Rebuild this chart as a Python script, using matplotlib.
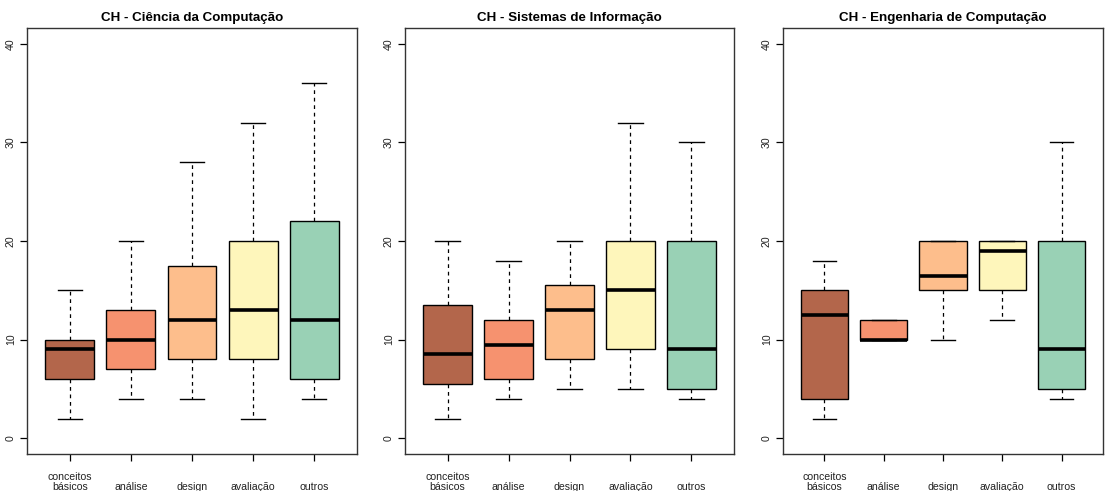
import matplotlib
matplotlib.use("Agg")
import matplotlib.pyplot as plt

plt.rcParams['font.family'] = ['Liberation Sans', 'DejaVu Sans']

# categories and colours
categorias = ["conceitos\nbásicos", "\nanálise", "\ndesign", "\navaliação", "\noutros"]
cores = ["#B3664B", "#F6926F", "#FDBE8C", "#FEF6BB", "#99D1B5"]

titulos = ["CH - Ciência da Computação",
           "CH - Sistemas de Informação",
           "CH - Engenharia de Computação"]

# five-number summaries per course: (min, q1, median, q3, max)
cc_stats = [(2, 6, 9, 10, 15),
            (4, 7, 10, 13, 20),
            (4, 8, 12, 17.5, 28),
            (2, 8, 13, 20, 32),
            (4, 6, 12, 22, 36)]
si_stats = [(2, 5.5, 8.5, 13.5, 20),
            (4, 6, 9.5, 12, 18),
            (5, 8, 13, 15.5, 20),
            (5, 9, 15, 20, 32),
            (4, 5, 9, 20, 30)]
ec_stats = [(2, 4, 12.5, 15, 18),
            (10, 10, 10, 12, 12),
            (10, 15, 16.5, 20, 20),
            (12, 15, 19, 20, 20),
            (4, 5, 9, 20, 30)]

yticks = [0, 10, 20, 30, 40]

W, H = 1105, 491
fig = plt.figure(figsize=(W / 100, H / 100), dpi=100)

# axes positions in pixels: (left, right)
posicoes = [(27, 357), (405, 734), (783, 1103)]
top_px, bot_px = 28, 454

for (l, r), titulo, stats in zip(posicoes, titulos, [cc_stats, si_stats, ec_stats]):
    ax = fig.add_axes([l / W, (H - bot_px) / H, (r - l) / W, (bot_px - top_px) / H])
    dados = []
    for s in stats:
        dados.append({'whislo': s[0], 'q1': s[1], 'med': s[2], 'q3': s[3],
                      'whishi': s[4], 'fliers': []})
    bp = ax.bxp(dados, positions=range(1, 6), widths=0.8, patch_artist=True,
                showfliers=False,
                boxprops=dict(edgecolor='black', linewidth=1.0),
                medianprops=dict(color='black', linewidth=2.6, solid_capstyle='butt'),
                whiskerprops=dict(color='black', linewidth=0.9, linestyle=(0, (3, 3))),
                capprops=dict(color='black', linewidth=1.0),
                capwidths=0.4)
    for patch, c in zip(bp['boxes'], cores):
        patch.set_facecolor(c)

    ax.set_xlim(0.3, 5.7)
    ax.set_ylim(-1.6, 41.6)
    ax.set_xticks(range(1, 6))
    ax.set_xticklabels(categorias, fontsize=7.6, color='#222222', linespacing=0.95)
    ax.set_yticks(yticks)
    ax.set_yticklabels([str(v) for v in yticks], fontsize=7.6, color='#222222',
                       rotation=90, va='center')
    ax.tick_params(axis='x', length=5, width=0.9, pad=8, direction='out')
    ax.tick_params(axis='y', length=5, width=0.9, pad=3, direction='out')
    for sp in ax.spines.values():
        sp.set_linewidth(1.0)
        sp.set_color('#333333')
    ax.set_title(titulo, fontsize=9.6, fontweight='bold', pad=5)

fig.savefig("out.png", dpi=100)
